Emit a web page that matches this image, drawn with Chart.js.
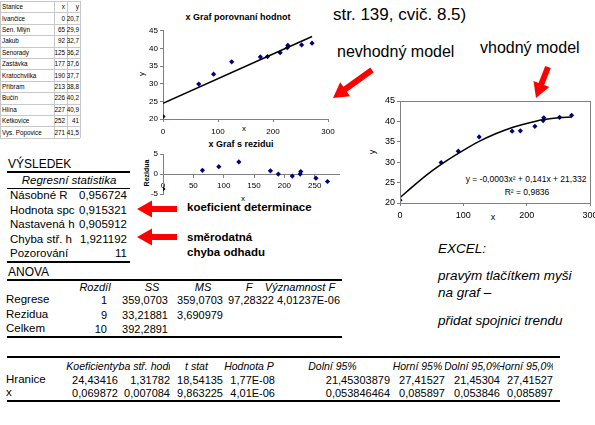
<!DOCTYPE html>
<html><head><meta charset="utf-8">
<script src="https://cdn.jsdelivr.net/npm/chart.js@4/dist/chart.umd.min.js"></script>
<style>
body{margin:0;width:595px;height:425px;overflow:hidden;background:#fff;position:relative;font-family:"Liberation Sans",Arial,sans-serif;color:#000}
.t{position:absolute;white-space:nowrap;line-height:1}
.wrap{position:absolute}
.wrap canvas{display:block}
.ln{position:absolute;background:#000}
.cell{position:absolute;display:flex;justify-content:center;align-items:center;overflow:hidden;white-space:nowrap;line-height:1}
</style></head><body>
<svg id="svg" width="595" height="425" style="position:absolute;left:0;top:0;z-index:5;pointer-events:none"></svg>
<script>
// ---------------- data ----------------
const stations = ["Ivančice","Sen. Mlýn","Jakub","Senorady","Zastávka","Kratochvilka","Příbram","Bučín","Hlína","Ketkovice","Vys. Popovice"];
const xValues = [0,65,92,125,177,190,213,226,227,252,271];
const yValues = [20.7,29.9,32.7,36.2,37.6,37.7,38.8,40.2,40.9,41,41.5];
const residuals = [-3.73,0.92,1.84,3.03,0.80,-0.01,-0.52,-0.03,0.61,-1.04,-1.87];
const linearTrendX = [0,271];
const linearTrendY = [24.43,43.37];
const polyTrendX = [0,25,50,75,100,125,150,175,200,225,250,271];
const polyTrendY = [21.3,24.7,27.8,30.5,32.9,35.1,36.9,38.4,39.5,40.4,40.9,41.1];
const xTicks = [0,100,200,300];
const yTicks = [20,25,30,35,40,45];
const residXTicks = [0,50,100,150,200,250];
const residYTicks = [-5,0,5];

const regStatLabels = ["Násobné R","Hodnota spc","Nastavená h","Chyba stř. h","Pozorování"];
const regStatValues = ["0,956724","0,915321","0,905912","1,921192","11"];
const anovaHeader = ["Rozdíl","SS","MS","F","Významnost F"];
const anovaLabels = ["Regrese","Rezidua","Celkem"];
const anovaRows = [["1","359,0703","359,0703","97,28322","4,01237E-06"],["9","33,21881","3,690979","",""],["10","392,2891","","",""]];
const coefHeader = ["Koeficienty","Chyba stř. hodnoty","t stat","Hodnota P","Dolní 95%","Horní 95%","Dolní 95,0%","Horní 95,0%"];
const coefLabels = ["Hranice","x"];
const coefRows = [["24,43416","1,31782","18,54135","1,77E-08","21,45303879","27,41527","21,45304","27,41527"],
                  ["0,069872","0,007084","9,863225","4,01E-06","0,053846464","0,085897","0,053846","0,085897"]];

// ---------------- helpers ----------------
function put(txt,x,y,o={}){
  const d=document.createElement('div');d.className='t';d.textContent=txt;
  d.style.left=x+'px';d.style.top=y+'px';
  d.style.fontSize=(o.size||12)+'px';
  if(o.bold)d.style.fontWeight='bold';
  if(o.italic)d.style.fontStyle='italic';
  if(o.color)d.style.color=o.color;
  let tx=o.align==='r'?'-100%':o.align==='c'?'-50%':'0';
  d.style.transform=`translate(${tx},-50%)`+(o.rot?` rotate(${o.rot}deg)`:'');
  d.style.transformOrigin='center';
  document.body.appendChild(d);return d;
}
function hline(x1,x2,y,w,c){const d=document.createElement('div');d.className='ln';d.style.left=x1+'px';d.style.width=(x2-x1)+'px';d.style.top=y+'px';d.style.height=w+'px';if(c)d.style.background=c;document.body.appendChild(d);}
function vline(x,y1,y2,w,c){const d=document.createElement('div');d.className='ln';d.style.left=x+'px';d.style.top=y1+'px';d.style.height=(y2-y1)+'px';d.style.width=w+'px';if(c)d.style.background=c;document.body.appendChild(d);}
function cell(txt,x1,x2,y,o={}){
  const d=document.createElement('div');d.className='cell';
  d.style.left=x1+'px';d.style.width=(x2-x1)+'px';d.style.top=(y-7)+'px';d.style.height='14px';
  d.style.fontSize=(o.size||11)+'px';if(o.italic)d.style.fontStyle='italic';
  const s=document.createElement('span');s.textContent=txt;s.style.flexShrink='0';d.appendChild(s);
  document.body.appendChild(d);
}
function arrow(x1,y1,x2,y2,sw,hl,hw){
  const dx=x2-x1,dy=y2-y1,len=Math.hypot(dx,dy),ux=dx/len,uy=dy/len,px=-uy,py=ux;
  const bx=x2-ux*hl,by=y2-uy*hl;
  const p=[[x1+px*sw/2,y1+py*sw/2],[bx+px*sw/2,by+py*sw/2],[bx+px*hw/2,by+py*hw/2],[x2,y2],[bx-px*hw/2,by-py*hw/2],[bx-px*sw/2,by-py*sw/2],[x1-px*sw/2,y1-py*sw/2]];
  const el=document.createElementNS('http://www.w3.org/2000/svg','polygon');
  el.setAttribute('points',p.map(q=>q[0].toFixed(1)+','+q[1].toFixed(1)).join(' '));el.setAttribute('fill','#ff0000');
  document.getElementById('svg').appendChild(el);
}

// ---------------- data table (top-left) ----------------
(function(){
  const top=1,rh=11.4,cols=[0,54,67,80];
  const n=stations.length+1;
  for(let i=0;i<=n;i++)hline(0,80,top+i*rh,1,'#c8c8c8');
  cols.forEach(c=>vline(c,top,top+n*rh,1,'#c8c8c8'));
  const fs=6.3;
  put("Stanice",2,top+rh/2+0.5,{size:fs});
  put("x",65,top+rh/2+0.5,{size:fs,align:'r'});
  put("y",79,top+rh/2+0.5,{size:fs,align:'r'});
  stations.forEach((s,i)=>{
    const y=top+(i+1.5)*rh+0.5;
    put(s,2,y,{size:fs});
    put(String(xValues[i]),65,y,{size:fs,align:'r'});
    put(String(yValues[i]).replace('.',','),79,y,{size:fs,align:'r'});
  });
})();

// ---------------- charts ----------------
const FAM='"Liberation Sans", Arial, sans-serif';
function pts(xs,ys){return xs.map((x,i)=>({x,y:ys[i]}));}
const boxPlugin={id:'plotframe',afterDraw(ch,a,o){if(!o.on)return;const c=ch.ctx,ca=ch.chartArea;c.save();c.strokeStyle='#808080';c.lineWidth=1;c.strokeRect(Math.round(ca.left)+0.5,Math.round(ca.top)+0.5,Math.round(ca.right-ca.left),Math.round(ca.bottom-ca.top));c.restore();}};
// draws the y-axis tick labels from the scale's own ticks and pixel positions
const yLabelPlugin={id:'ylabels',afterDraw(ch,a,o){
  if(!o.on)return;const s=ch.scales.y,c=ch.ctx;
  c.save();c.fillStyle='#000';c.font=o.size+'px '+FAM;c.textAlign='right';c.textBaseline='middle';
  s.ticks.forEach(t=>{c.fillText(String(t.label!==undefined?t.label:t.value),s.right-5,s.getPixelForValue(t.value));});
  c.restore();}};
function mk(L,T,W,H,P,cfg){
  const w=document.createElement('div');w.className='wrap';
  Object.assign(w.style,{left:L+'px',top:T+'px',width:W+'px',height:H+'px',zIndex:2});
  const c=document.createElement('canvas');c.width=W;c.height=H;
  Object.assign(c.style,{width:W+'px',height:H+'px'});
  w.appendChild(c);document.body.appendChild(w);
  const yW=P.l-L,xH=T+H-P.b,padT=P.t-T,padR=L+W-P.r;
  const fs=cfg.fs;
  new Chart(c,{type:'scatter',data:{datasets:cfg.datasets},plugins:[boxPlugin,yLabelPlugin],
    options:{responsive:false,animation:false,devicePixelRatio:1,
      layout:{padding:{top:padT,right:padR,left:0,bottom:cfg.xAtZero?xH:0}},
      plugins:{legend:{display:false},tooltip:{enabled:false},plotframe:{on:!!cfg.box},ylabels:{on:!!cfg.ownLabels,size:fs}},
      scales:{
        x:{type:'linear',min:cfg.xMin,max:cfg.xMax,position:cfg.xAtZero?{y:0}:'bottom',
          afterFit:s=>{s.height=xH;},
          afterBuildTicks:s=>{s.ticks=cfg.xTicks.map(v=>({value:v}));},
          ticks:{font:{size:fs,family:FAM},color:'#000',padding:cfg.xPad,maxRotation:0,autoSkip:false},
          grid:{drawOnChartArea:false,tickLength:3,color:'#808080'},border:{color:'#808080'}},
        y:{type:'linear',position:'left',min:cfg.yMin,max:cfg.yMax,
          afterFit:s=>{s.width=yW;},
          afterBuildTicks:s=>{s.ticks=cfg.yTicks.map(v=>({value:v}));},
          ticks:{display:!cfg.ownLabels,font:{size:fs,family:FAM},color:'#000',padding:2,autoSkip:false},
          grid:{drawOnChartArea:false,tickLength:3,color:'#808080'},border:{color:'#808080'}}
      }}});
}
const markerDS=(data)=>({data,showLine:false,pointStyle:'rectRot',pointRadius:2.6,pointBackgroundColor:'#000080',pointBorderColor:'#000080',pointBorderWidth:0});
const lineDS=(data,tension)=>({data,showLine:true,pointRadius:0,borderColor:'#000',borderWidth:1.5,tension:tension||0,cubicInterpolationMode:'monotone'});

// chart 1: comparison with linear model
mk(135,24,205,116,{l:163,t:30,r:328,b:119},{fs:8,xMin:0,xMax:300,yMin:20,yMax:45,xTicks,yTicks,xPad:5,
  datasets:[lineDS(pts(linearTrendX,linearTrendY)),markerDS(pts(xValues,yValues))]});
put("x Graf porovnaní hodnot",238,17,{size:9,bold:true,align:'c'});
put("y",142,74,{size:8,align:'c',rot:-90});
put("x",244,129,{size:8,align:'c'});

// chart 2: residuals
mk(135,148,215,72,{l:163,t:154,r:339,b:194},{fs:8,xMin:0,xMax:290,yMin:-5,yMax:5,xTicks:residXTicks,yTicks:residYTicks,xPad:4,xAtZero:true,ownLabels:true,
  datasets:[markerDS(pts(xValues,residuals))]});
put("x Graf s rezidui",241,144,{size:9,bold:true,align:'c'});
put("Rezidua",146,173,{size:7,bold:true,align:'c',rot:-90});
put("x",243,199,{size:8,align:'c'});

// chart 3: polynomial trend
mk(360,92,250,135,{l:400,t:101,r:590,b:203},{fs:9,xMin:0,xMax:300,yMin:20,yMax:45,xTicks,yTicks,xPad:4,box:true,ownLabels:true,
  datasets:[lineDS(pts(polyTrendX,polyTrendY),0.4),markerDS(pts(xValues,yValues))]});
put("y",372,152,{size:9,align:'c',rot:-90});
put("x",493,217,{size:9,align:'c'});
put("y = -0,0003x² + 0,141x + 21,332",526,179,{size:8.5,align:'c'});
put("R² = 0,9836",527,192,{size:8.5,align:'c'});

// ---------------- regression output ----------------
const TF=11.5;
put("VÝSLEDEK",8,164,{size:12});
hline(7,130,171,2);
put("Regresní statistika",69,181,{size:TF,italic:true,align:'c'});
hline(7,130,188,1);
regStatLabels.forEach((l,i)=>{const y=196+i*14.5;put(l,10,y,{size:TF});put(regStatValues[i],127,y,{size:TF,align:'r'});});
hline(7,130,261,2);
put("ANOVA",8,272,{size:12});
hline(7,342,279,2);
const anHX=[95,152,203,249,300];
anovaHeader.forEach((h,i)=>put(h,anHX[i],287,{size:11,italic:true,align:'c'}));
const anR=[107,168,223,274,340];
anovaLabels.forEach((l,r)=>{const y=300+r*14.5;put(l,6,y,{size:TF});anovaRows[r].forEach((v,c)=>{if(v)put(v,anR[c],y,{size:11,align:'r'});});});
hline(7,342,336,2);

// coefficients
hline(7,560,356,2);
const coefCols=[66,118,170,223,275,390,445,500,553];
coefHeader.forEach((h,i)=>cell(h,coefCols[i],coefCols[i+1],366,{size:10.5,italic:true}));
coefLabels.forEach((l,r)=>{const y=380+r*13;put(l,6,y,{size:TF});coefRows[r].forEach((v,c)=>put(v,coefCols[c+1],y,{size:11,align:'r'}));});
hline(7,560,400,2);

// ---------------- annotations ----------------
put("str. 139, cvič. 8.5)",333,14,{size:17});
put("nevhodný model",337,52,{size:16});
put("vhodný model",480,48,{size:16});
arrow(372,70,333,98,6,15,17);
arrow(548,67,536,98,6,15,17);
arrow(177,209,137,209,6,15,17);
arrow(177,237,137,237,6,15,17);
put("koeficient determinace",187,208,{size:11.5,bold:true});
put("směrodatná",187,238,{size:11.5,bold:true});
put("chyba odhadu",187,253,{size:11.5,bold:true});
put("EXCEL:",438,249,{size:13.5,italic:true});
put("pravým tlačítkem myši",438,276,{size:13.5,italic:true});
put("na graf –",438,293,{size:13.5,italic:true});
put("přidat spojnici trendu",438,321,{size:13.5,italic:true});
</script>
</body></html>
